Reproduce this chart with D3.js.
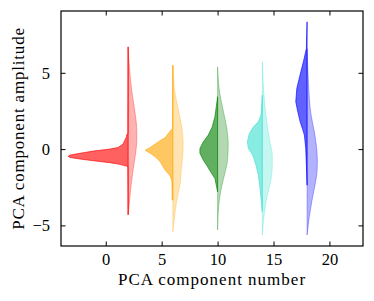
<!DOCTYPE html>
<html>
<head>
<meta charset="utf-8">
<script src="https://cdn.jsdelivr.net/npm/d3@7"></script>
<style>
  html, body { margin: 0; padding: 0; background: #fff; }
  text { font-family: "Liberation Serif", "DejaVu Serif", serif; fill: #000; }
</style>
</head>
<body>
<svg id="chart" width="374" height="301"></svg>
<script>
// component positions on the x axis and their colours
var positions = [2, 6, 10, 14, 18];
var colors = ["#ff0000", "#ffa500", "#008000", "#40e0d0", "#0000ff"];

// left (dark) half of each violin: amplitude values and half-widths
var leftY = [
  [-4.3, -1.15, -1.11, -0.98, -0.89, -0.76, -0.65, -0.55, -0.47, -0.39, -0.13, 0.0, 0.11, 0.33, 0.81, 0.96, 1.0, 6.7],
  [-3.34, -2.03, -1.70, -1.38, -0.83, -0.50, -0.28, -0.07, 0.11, 0.48, 0.76, 1.24, 1.35, 5.5],
  [-2.80, -1.92, -1.59, -1.16, -0.72, -0.28, 0.04, 0.48, 0.92, 1.46, 2.12, 3.43],
  [-4.10, -3.45, -2.57, -1.70, -1.05, -0.39, 0.04, 0.48, 1.03, 1.46, 1.79, 2.23, 3.54],
  [-2.36, -1.05, 0.04, 0.92, 1.35, 1.79, 2.44, 3.10, 3.97, 4.85, 5.72, 6.59, 8.34]
];
var leftW = [
  [0, 0.02, 0.15, 0.89, 1.64, 3.13, 4.32, 5.2, 5.36, 5.2, 3.13, 1.64, 0.89, 0.45, 0.15, 0.12, 0.02, 0],
  [0.06, 0.09, 0.30, 0.68, 1.13, 1.58, 2.02, 2.47, 2.02, 1.28, 0.68, 0.18, 0.02, 0],
  [0, 0.24, 0.54, 0.89, 1.28, 1.58, 1.58, 1.28, 0.83, 0.48, 0.24, 0],
  [0, 0.09, 0.21, 0.36, 0.57, 0.86, 1.25, 1.34, 1.16, 0.80, 0.36, 0.12, 0],
  [0, 0.06, 0.12, 0.24, 0.42, 0.62, 0.83, 1.01, 0.92, 0.63, 0.33, 0.06, 0]
];

// right (light) half of each violin
var rightY = [
  [-4.32, -3.78, -2.68, -1.59, -0.72, 0.15, 1.03, 1.68, 2.77, 3.86, 4.96, 6.70],
  [-5.41, -4.43, -3.34, -2.25, -1.38, -0.50, 0.37, 1.46, 2.55, 3.65, 5.50],
  [-5.30, -3.56, -2.47, -1.59, -0.72, 0.37, 1.46, 2.55, 3.65, 5.39],
  [-5.63, -4.76, -3.88, -3.01, -2.14, -1.05, -0.39, 0.48, 1.79, 3.54, 5.72],
  [-5.63, -4.54, -3.45, -2.57, -1.70, -0.83, 0.04, 1.13, 2.23, 4.41, 6.59]
];
var rightW = [
  [0, 0.08, 0.22, 0.40, 0.58, 0.74, 0.78, 0.74, 0.54, 0.32, 0.16, 0],
  [0, 0.15, 0.36, 0.65, 0.75, 0.88, 0.92, 0.80, 0.50, 0.20, 0],
  [0, 0.12, 0.36, 0.65, 0.89, 0.95, 0.80, 0.50, 0.20, 0],
  [0, 0.09, 0.24, 0.45, 0.74, 0.89, 0.89, 0.68, 0.39, 0.15, 0],
  [0, 0.18, 0.42, 0.65, 0.86, 0.92, 0.86, 0.65, 0.36, 0.12, 0]
];

var xTicks = [0, 5, 10, 15, 20];
var yTicks = [-5, 0, 5];

var margin = {top: 11, right: 11, bottom: 55, left: 61};
var width = 374 - margin.left - margin.right;
var height = 301 - margin.top - margin.bottom;

var svg = d3.select("#chart")
  .append("g")
    .attr("transform", "translate(" + margin.left + "," + margin.top + ")");

var x = d3.scaleLinear().domain([-4, 23]).range([0, width]);
var y = d3.scaleLinear().domain([-6.35, 9.05]).range([height, 0]);

function halfArea(pos, side, curve) {
  return d3.area()
    .curve(curve)
    .y(function(d) { return y(d[0]); })
    .x0(x(pos))
    .x1(function(d) { return x(pos + side * d[1]); });
}

var violins = svg.append("g").attr("class", "violins");

positions.forEach(function(pos, i) {
  var right = d3.zip(rightY[i], rightW[i]);
  var left = d3.zip(leftY[i], leftW[i]);

  violins.append("path")
    .attr("d", halfArea(pos, 1, d3.curveMonotoneY)(right))
    .attr("fill", colors[i])
    .attr("fill-opacity", 0.3)
    .attr("stroke", colors[i])
    .attr("stroke-opacity", 0.3)
    .attr("stroke-width", 1);

  violins.append("path")
    .attr("d", halfArea(pos, -1, d3.curveLinear)(left))
    .attr("fill", colors[i])
    .attr("fill-opacity", 0.62)
    .attr("stroke", colors[i])
    .attr("stroke-opacity", 0.62)
    .attr("stroke-width", 1);
});

// axes with ticks pointing inwards on all four sides
var tickLen = 4.5;
svg.append("g")
  .attr("transform", "translate(0," + height + ")")
  .call(d3.axisBottom(x).tickValues(xTicks).tickSize(-tickLen).tickPadding(7)
    .tickFormat(d3.format("d")));
svg.append("g")
  .call(d3.axisTop(x).tickValues(xTicks).tickSize(-tickLen).tickFormat(""));
svg.append("g")
  .call(d3.axisLeft(y).tickValues(yTicks).tickSize(-tickLen).tickPadding(11)
    .tickFormat(function(d) { return d < 0 ? "\u2212" + Math.abs(d) : d; }));
svg.append("g")
  .attr("transform", "translate(" + width + ",0)")
  .call(d3.axisRight(y).tickValues(yTicks).tickSize(-tickLen).tickFormat(""));

svg.selectAll(".domain").remove();
svg.selectAll(".tick line").attr("stroke", "#000").attr("stroke-width", 1);
svg.selectAll(".tick text")
  .attr("font-family", "Liberation Serif, serif")
  .attr("font-size", 16.5);

svg.append("rect")
  .attr("width", width)
  .attr("height", height)
  .attr("fill", "none")
  .attr("stroke", "#000")
  .attr("stroke-width", 1.2);

svg.append("text")
  .attr("x", width / 2)
  .attr("y", height + 39)
  .attr("text-anchor", "middle")
  .attr("font-size", 17)
  .attr("letter-spacing", 1)
  .text("PCA component number");

svg.append("text")
  .attr("transform", "translate(" + (24 - margin.left) + "," + (height / 2) + ") rotate(-90)")
  .attr("text-anchor", "middle")
  .attr("font-size", 17)
  .attr("letter-spacing", 0.8)
  .text("PCA component amplitude");
</script>
</body>
</html>
